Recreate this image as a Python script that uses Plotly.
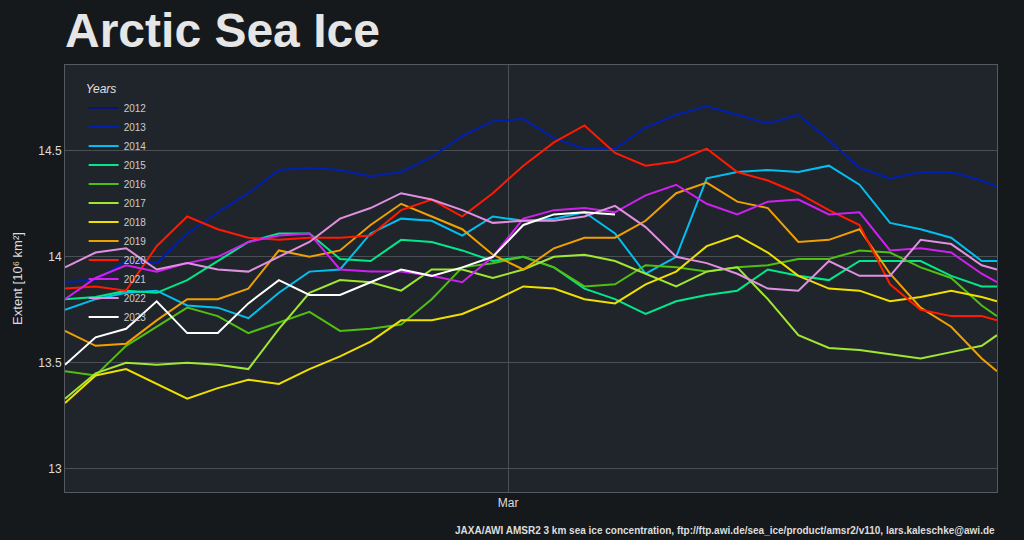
import plotly.graph_objects as go
import pandas as pd

offsets = list(range(0, 61, 2)) + [61]
dates = [pd.Timestamp("2023-01-31") + pd.Timedelta(days=d) for d in offsets]

years = ["2012","2013","2014","2015","2016","2017","2018","2019","2020","2021","2022","2023"]
colors = ["#0a1478","#0020b0","#00c0f0","#00e88a","#50c010","#a0e830","#f0e000","#f0a000","#ff1a00","#d020f0","#e090e0","#ffffff"]

v2012 = [None]
v2013 = [13.88,13.89,13.98,13.97,14.11,14.21,14.30,14.41,14.42,14.41,14.38,14.40,14.47,14.57,14.64,14.65,14.56,14.51,14.51,14.61,14.67,14.71,14.67,14.63,14.67,14.55,14.42,14.37,14.40,14.40,14.36,14.33]
v2014 = [13.75,13.80,13.83,13.84,13.77,13.76,13.71,13.83,13.93,13.94,14.11,14.18,14.17,14.10,14.19,14.17,14.18,14.21,14.11,13.92,14.00,14.37,14.40,14.41,14.40,14.43,14.34,14.16,14.13,14.09,13.98,13.98]
v2015 = [13.80,13.81,13.84,13.83,13.89,13.98,14.07,14.11,14.11,13.99,13.98,14.08,14.07,14.03,13.98,14.00,13.95,13.85,13.80,13.73,13.79,13.82,13.84,13.94,13.91,13.89,13.98,13.98,13.98,13.91,13.86,13.86]
v2016 = [13.46,13.44,13.58,13.67,13.76,13.72,13.64,13.69,13.74,13.65,13.66,13.68,13.80,13.95,13.97,14.00,13.95,13.86,13.87,13.96,13.95,13.93,13.95,13.96,13.99,13.99,14.03,14.02,13.95,13.90,13.77,13.72]
v2017 = [13.33,13.45,13.50,13.49,13.50,13.49,13.47,13.66,13.83,13.89,13.88,13.84,13.94,13.94,13.90,13.94,14.00,14.01,13.98,13.92,13.86,13.93,13.95,13.80,13.63,13.57,13.56,13.54,13.52,13.55,13.58,13.63]
v2018 = [13.31,13.44,13.47,13.40,13.33,13.38,13.42,13.40,13.47,13.53,13.60,13.70,13.70,13.73,13.79,13.86,13.85,13.80,13.78,13.87,13.93,14.05,14.10,14.02,13.91,13.85,13.84,13.79,13.81,13.84,13.81,13.79]
v2019 = [13.65,13.58,13.59,13.70,13.80,13.80,13.85,14.03,14.00,14.03,14.15,14.25,14.19,14.13,14.01,13.94,14.04,14.09,14.09,14.17,14.30,14.35,14.26,14.23,14.07,14.08,14.13,13.92,13.76,13.67,13.52,13.46]
v2020 = [13.85,13.86,13.84,14.05,14.19,14.13,14.09,14.08,14.09,14.09,14.10,14.22,14.27,14.19,14.30,14.43,14.54,14.62,14.49,14.43,14.45,14.51,14.40,14.36,14.30,14.22,14.15,13.87,13.75,13.72,13.72,13.70]
v2021 = [13.80,13.90,13.96,13.93,13.97,14.00,14.07,14.10,14.11,13.94,13.93,13.93,13.91,13.88,14.00,14.18,14.22,14.23,14.21,14.29,14.34,14.25,14.20,14.26,14.27,14.20,14.21,14.03,14.04,14.02,13.92,13.88]
v2022 = [13.95,14.02,14.04,13.94,13.97,13.94,13.93,14.00,14.07,14.18,14.23,14.30,14.27,14.22,14.16,14.17,14.17,14.19,14.24,14.14,14.00,13.97,13.92,13.85,13.84,13.98,13.91,13.91,14.08,14.06,13.96,13.94]
v2023 = [13.49,13.62,13.66,13.79,13.64,13.64,13.78,13.89,13.82,13.82,13.88,13.94,13.91,13.95,14.00,14.15,14.20,14.21,14.20]

series = [v2012,v2013,v2014,v2015,v2016,v2017,v2018,v2019,v2020,v2021,v2022,v2023]

fig = go.Figure()
for name, col, vals in zip(years, colors, series):
    fig.add_trace(go.Scatter(x=dates[:len(vals)], y=vals, mode="lines", name=name,
                             line=dict(color=col, width=2)))

fig.update_layout(
    width=1024, height=540,
    paper_bgcolor="#16191c", plot_bgcolor="#20242b",
    margin=dict(l=65, r=27, t=65, b=48),
    font=dict(family="Liberation Sans, Arial", color="#dddddd"),
    title=dict(text="<b>Arctic Sea Ice</b>", x=0.0635, xanchor="left", y=0.976, yanchor="top",
               font=dict(size=48, color="#e6e6e6")),
    showlegend=True,
    legend=dict(x=0.02, y=0.97, xanchor="left", yanchor="top", bgcolor="rgba(0,0,0,0)",
                title=dict(text="<i>Years</i>", font=dict(size=12, color="#e0e0e0")),
                font=dict(size=10, color="#cccccc"), itemwidth=30, tracegroupgap=0),
    xaxis=dict(range=["2023-01-31", "2023-04-02"], tickvals=["2023-03-01"], ticktext=["Mar"],
               showgrid=True, gridcolor="#4a4f55", zeroline=False, showline=True,
               linecolor="#555a60", mirror=True, tickfont=dict(size=12, color="#dddddd"), ticks=""),
    yaxis=dict(range=[12.89, 14.905], tickvals=[13, 13.5, 14, 14.5], ticktext=["13", "13.5", "14", "14.5"],
               showgrid=True, gridcolor="#4a4f55", zeroline=False, showline=True,
               linecolor="#555a60", mirror=True, tickfont=dict(size=12, color="#dddddd"),
               title=dict(text="Extent [10⁶ km²]", font=dict(size=13, color="#dddddd"), standoff=12)),
)
fig.add_annotation(text="<b>JAXA/AWI AMSR2 3 km sea ice concentration, ftp://ftp.awi.de/sea_ice/product/amsr2/v110, lars.kaleschke@awi.de</b>",
                   xref="paper", yref="paper", x=1.0, y=-0.108, xanchor="right", yanchor="bottom",
                   showarrow=False, font=dict(size=10, color="#dddddd"))
fig.write_html("out.html", config={"displayModeBar": False},
               post_script="document.body.style.margin='0';document.body.style.background='#16191c';")
